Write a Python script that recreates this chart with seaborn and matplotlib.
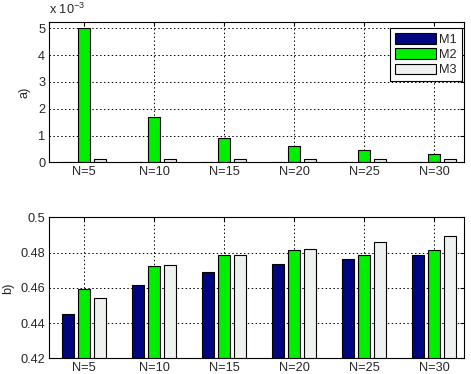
import numpy as np
import pandas as pd
import matplotlib
matplotlib.use('Agg')
import matplotlib.pyplot as plt
import seaborn as sns


# data
groups = ['N=5', 'N=10', 'N=15', 'N=20', 'N=25', 'N=30']
methods = ['M1', 'M2', 'M3']

# panel a) (real values, axis shows them in units of 1e-3)
a_m1 = [0.0, 0.0, 0.0, 0.0, 0.0, 0.0]
a_m2 = [5.0e-3, 1.68e-3, 0.9e-3, 0.61e-3, 0.45e-3, 0.30e-3]
a_m3 = [0.11e-3, 0.11e-3, 0.11e-3, 0.11e-3, 0.11e-3, 0.11e-3]

# panel b)
b_m1 = [0.4452, 0.4616, 0.4690, 0.4735, 0.4764, 0.4786]
b_m2 = [0.4591, 0.4722, 0.4784, 0.4813, 0.4784, 0.4813]
b_m3 = [0.4542, 0.4728, 0.4784, 0.4818, 0.4860, 0.4892]

colors = ['#00067f', '#00ee00', '#eef2ee']


def long_table(m1, m2, m3, scale=1.0):
    rows = []
    for name, vals in zip(methods, [m1, m2, m3]):
        for g, v in zip(groups, vals):
            rows.append({'group': g, 'method': name, 'value': v * scale})
    return pd.DataFrame(rows)


sns.set_style('white')
plt.rcParams['font.family'] = ['Liberation Sans', 'DejaVu Sans']
plt.rcParams['mathtext.default'] = 'regular'
fs = 9.2
plt.rcParams['font.size'] = fs

fig = plt.figure(figsize=(4.71, 3.74), dpi=100)
ax1 = fig.add_axes([0.1047, 0.566, 0.881, 0.376])
ax2 = fig.add_axes([0.1047, 0.042, 0.881, 0.377])

df_a = long_table(a_m1, a_m2, a_m3, scale=1e3)
df_b = long_table(b_m1, b_m2, b_m3)

for ax, df in [(ax1, df_a), (ax2, df_b)]:
    sns.barplot(data=df, x='group', y='value', hue='method', order=groups,
                hue_order=methods, palette=colors, width=0.69, gap=0.25,
                edgecolor='black', linewidth=0.8, saturation=1, ax=ax)
    ax.set_xlim(-0.5, 5.43)
    ax.set_xlabel('')
    ax.set_axisbelow(True)
    ax.grid(True, color='black', linestyle=(0, (1.5, 2.5)), linewidth=0.7)
    ax.tick_params(direction='in', length=3, color='black', labelsize=fs,
                   top=True, right=True, pad=3)
    for s in ax.spines.values():
        s.set_color('black')
        s.set_linewidth(0.8)

# panel a)
ax1.set_ylim(0, 5.25)
ax1.set_yticks([0, 1, 2, 3, 4, 5])
ax1.set_ylabel('a)', labelpad=5.3)
ax1.text(0.0, 1.03, 'x 10$^{-3}$', transform=ax1.transAxes, fontsize=fs,
         ha='left', va='bottom')
handles, labels = ax1.get_legend_handles_labels()
ax1.legend(handles, labels, loc='upper right', bbox_to_anchor=(0.995, 0.955),
           frameon=True, fancybox=False, edgecolor='black', framealpha=1,
           handlelength=3.2, handleheight=0.9, handletextpad=0.3,
           labelspacing=0.2, borderpad=0.4, borderaxespad=0, fontsize=fs)
ax1.get_legend().get_frame().set_linewidth(0.8)

# panel b)
ax2.set_ylim(0.42, 0.5)
ax2.set_yticks([0.42, 0.44, 0.46, 0.48, 0.5])
ax2.set_yticklabels(['0.42', '0.44', '0.46', '0.48', '0.5'])
ax2.set_ylabel('b)', labelpad=4.3)
ax2.get_legend().remove()

fig.savefig('out.png', dpi=100)
